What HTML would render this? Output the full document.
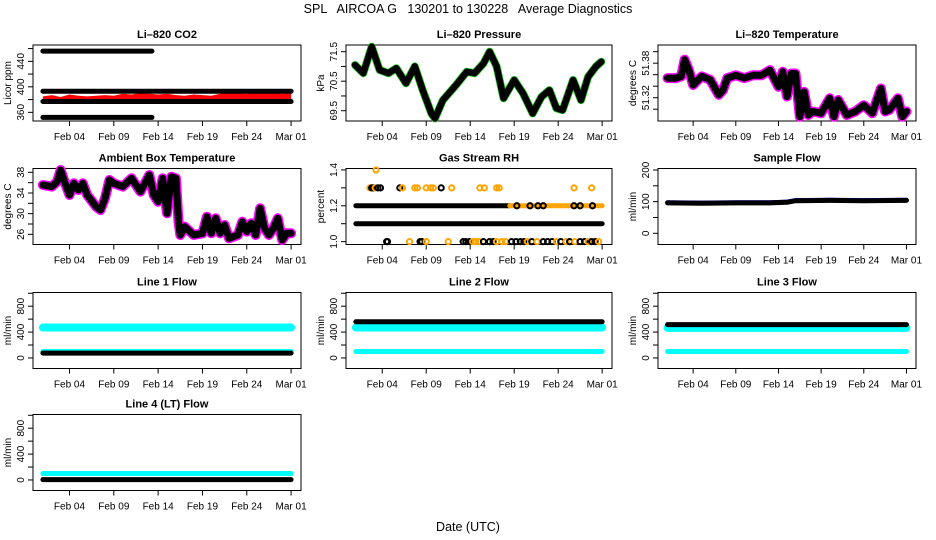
<!DOCTYPE html>
<html><head><meta charset="utf-8"><style>
html,body{margin:0;padding:0;background:#fff;}
svg{display:block;font-family:"Liberation Sans",sans-serif;}
#main-title{white-space:pre;}
</style></head><body>
<svg id="chart" width="936" height="540" viewBox="0 0 936 540">
<text id="main-title" xml:space="preserve" x="468" y="13" text-anchor="middle" font-size="12.5">SPL   AIRCOA G   130201 to 130228   Average Diagnostics</text>
<text x="468" y="531" text-anchor="middle" font-size="12.5">Date (UTC)</text>
</svg>
<script>
// ---- data ----
const xTickDays = [4, 9, 14, 19, 24, 29];
const xTickLabels = ["Feb 04", "Feb 09", "Feb 14", "Feb 19", "Feb 24", "Mar 01"];

const co2BandStart = [1, 1, 1, 1];
const co2BandEnd = [13.3, 29, 29, 13.3];
const co2BandVals = [456, 393, 377, 352];
const co2RedDays = [1,2,3,4,5,6,7,8,9,10,11,12,13,14,15,16,17,18,19,20,21,22,23,24,25,26,27,28,29];
const co2RedUpper = [385,387,384,388,386,385,386,387,386,389,388,390,389,388,389,387,386,388,387,386,389,392,390,389,391,390,391,389,390];
const co2RedLower = 379;

const presDays = [0.9,1.85,2.8,3.7,4.7,5.6,6.7,7.7,8.6,9.6,10,10.9,12.4,13.6,14.5,15.5,16.2,17,17.8,19,20,21.1,22.1,23,23.8,24.5,25.7,26.6,27.4,28.3,28.9];
const presVals = [71.05,70.77,71.67,70.88,70.77,70.94,70.43,71.0,70.2,69.4,69.24,69.86,70.37,70.82,70.77,71.1,71.5,71.0,69.92,70.54,70.09,69.41,69.97,70.2,69.58,69.52,70.54,69.86,70.65,71.0,71.16];

const tempDays = [1,2,2.6,3,3.5,4,5,6,7,7.5,8,9,10,11,12,13,14,14.5,15,15.5,16,16.5,17,17.5,18,19,20,20.5,21,22,23,24,25,26,26.5,27,28,28.5,29];
const tempVals = [51.354,51.354,51.357,51.386,51.368,51.342,51.357,51.351,51.325,51.333,51.354,51.359,51.354,51.359,51.359,51.368,51.339,51.365,51.322,51.362,51.362,51.287,51.330,51.290,51.296,51.293,51.319,51.287,51.316,51.290,51.296,51.307,51.293,51.336,51.296,51.299,51.319,51.287,51.296];

const ambDays = [1,2,2.6,3,3.5,4,4.5,5,5.5,6,7,7.5,8,8.5,9,10,11,12,13,13.5,14,14.5,15,15.5,16,16.3,16.5,17,18,19,19.5,20,20.5,21,21.5,22,23,23.5,24,24.5,25,25.5,26,26.5,27,27.5,28,28.5,29];
const ambVals = [35.55,35.23,36.19,38.45,35.87,33.61,35.87,34.58,35.87,33.61,31.35,30.71,32.97,36.52,35.87,35.23,36.84,34.26,37.48,33.61,32.32,36.84,30.06,37.16,36.84,28.45,25.87,27.48,25.87,26.19,29.42,26.19,29.1,26.19,27.81,25.23,25.87,28.45,26.52,28.13,25.87,31.03,27.16,25.87,27.16,29.1,24.9,26.19,26.19];

const rh13Days = [2.6,2.8,3.0,3.2,3.5,3.8,6.0,6.3,7.7,8.0,9.0,9.5,9.8,10.7,11.9,15.1,15.6,17.0,17.3,25.8,27.8];
const rh13Black = [0,1,1,0,1,1,1,0,0,0,0,0,0,1,0,0,0,0,0,0,0];
const rh14Days = [3.3];
const rh10Days = [4.5,4.6,7.1,8.3,8.5,9.0,11.5,13.2,13.5,13.9,14.3,14.6,15.0,15.5,16.2,16.6,17.0,17.6,18.0,18.7,19.2,19.7,20.1,20.5,21.0,21.6,22.3,22.8,23.3,23.8,24.3,24.9,25.3,25.9,26.5,27.0,27.4,27.8,28.2,28.6];
const rh10Black = [1,1,0,1,1,0,0,1,1,1,0,0,0,1,1,1,0,0,0,1,1,1,1,0,1,0,1,1,1,0,1,0,1,0,1,1,0,1,1,0];
const rh12BlackEnd = 18.5;
const rh12Dots = [19.3,20.8,21.7,22.3,25.8,26.5,27.9];

const sampleDays = [1,5,9,13,15,16,20,24,29];
const sampleVals = [96,95,96,96,98,103,104,103,104];

const flowNames = ["Line 1 Flow","Line 2 Flow","Line 3 Flow","Line 4 (LT) Flow"];
const flowCyanHigh = [470, 470, 465, 100];
const flowCyanLow = [100, 100, 100, null];
const flowBlack = [75, 560, 515, 5];

// ---- helpers ----
const NS = "http://www.w3.org/2000/svg";
const svg = document.getElementById("chart");
const colL = [33, 346, 658], colR = [301, 612, 916];
const rowT = [45, 168.5, 292.5, 414.5], BH = 76;

function el(tag, attrs, parent) {
  const e = document.createElementNS(NS, tag);
  for (const k in attrs) e.setAttribute(k, attrs[k]);
  (parent || svg).appendChild(e);
  return e;
}

function panel(col, row, title, ylab, ymin, ymax, ticks, labels, slug) {
  const g = el("g", {});
  
  
  const L = colL[col], R = colR[col], T = rowT[row], B = T + BH;
  const xs = d => L + (R - L) * ((d - 1) / 28 * 0.926 + 0.037);
  const ys = v => B - (v - ymin) / (ymax - ymin) * BH;
  const t = el("text", {x: (L + R) / 2, y: T - 7, "text-anchor": "middle", "font-size": 11, "font-weight": "bold"}, g);
  t.textContent = title;
  
  
  const box = el("rect", {x: L, y: T, width: R - L, height: BH, fill: "none", stroke: "#000", "stroke-width": 1}, g);
  
  
  const xa = el("g", {}, g);
  
  
  xTickDays.forEach((d, i) => {
    el("line", {x1: xs(d), x2: xs(d), y1: B, y2: B + 5, stroke: "#000"}, xa);
    const tl = el("text", {x: xs(d), y: B + 19, "text-anchor": "middle", "font-size": 10}, xa);
    tl.textContent = xTickLabels[i];
    
    
  });
  const ya = el("g", {}, g);
  
  
  ticks.forEach(v => el("line", {x1: L - 5, x2: L, y1: ys(v), y2: ys(v), stroke: "#000"}, ya));
  labels.forEach(lb => {
    const yy = ys(lb[0]);
    const tl = el("text", {x: L - 9, y: yy, "text-anchor": "middle", "font-size": 10, transform: `rotate(-90 ${L - 9} ${yy})`}, ya);
    tl.textContent = lb[1];
    
    
  });
  const yt = el("text", {x: L - 22, y: T + BH / 2, "text-anchor": "middle", "font-size": 10, transform: `rotate(-90 ${L - 22} ${T + BH / 2})`}, g);
  yt.textContent = ylab;
  
  
  const data = el("g", {}, g);
  
  
  return {xs, ys, g: data};
}

function band(p, d1, d2, v, color, w, name) {
  const l = el("line", {x1: p.xs(d1), x2: p.xs(d2), y1: p.ys(v), y2: p.ys(v), stroke: color, "stroke-width": w, "stroke-linecap": "round"}, p.g);
  
  
  return l;
}
function series(p, days, vals, color, w, name) {
  const pts = days.map((d, i) => p.xs(d).toFixed(1) + "," + p.ys(vals[i]).toFixed(1)).join(" ");
  const l = el("polyline", {points: pts, fill: "none", stroke: color, "stroke-width": w, "stroke-linejoin": "round", "stroke-linecap": "round"}, p.g);
  
  
  return l;
}
function dot(p, d, v, color, name) {
  const c = el("circle", {cx: p.xs(d), cy: p.ys(v), r: 2.6, fill: "none", stroke: color, "stroke-width": 2}, p.g);
  
  
}

// ---- CO2 ----
let p = panel(0, 0, "Li\u2013820 CO2", "Licor ppm", 346.4, 465.6, [360,380,400,420,440,460], [[360,"360"],[400,"400"],[440,"440"]], "co2");
{
  const up = co2RedDays.map((d, i) => p.xs(d).toFixed(1) + "," + p.ys(co2RedUpper[i]).toFixed(1));
  const lo = co2RedDays.slice().reverse().map(d => p.xs(d).toFixed(1) + "," + p.ys(co2RedLower).toFixed(1));
  const poly = el("polygon", {points: up.concat(lo).join(" "), fill: "#ff0000"}, p.g);
  
  
  co2BandVals.forEach((v, i) => band(p, co2BandStart[i], co2BandEnd[i], v, "#000", 5, "co2-black-band"));
}

// ---- Pressure ----
p = panel(1, 0, "Li\u2013820 Pressure", "kPa", 69.151, 71.727, [69.5,70,70.5,71,71.5], [[69.5,"69.5"],[70.5,"70.5"],[71.5,"71.5"]], "pressure");
series(p, presDays, presVals, "#22cc22", 8, "pressure-green-series");
series(p, presDays, presVals, "#000", 6.5, "pressure-black-series");

// ---- Li-820 Temperature ----
p = panel(2, 0, "Li\u2013820 Temperature", "degrees C", 51.2795, 51.4116, [51.30,51.32,51.34,51.36,51.38,51.40], [[51.38,"51.38"],[51.32,"51.32"]], "li820-temp");
series(p, tempDays, tempVals, "#ff00ff", 10, "li820-temp-magenta-series");
series(p, tempDays, tempVals, "#000", 7, "li820-temp-black-series");

// ---- Ambient ----
p = panel(0, 1, "Ambient Box Temperature", "degrees C", 24.03, 38.74, [26,28,30,32,34,36,38], [[26,"26"],[30,"30"],[34,"34"],[38,"38"]], "ambient-temp");
series(p, ambDays, ambVals, "#ff00ff", 10, "ambient-magenta-series");
series(p, ambDays, ambVals, "#000", 7, "ambient-black-series");

// ---- Gas stream RH ----
p = panel(1, 1, "Gas Stream RH", "percent", 0.984, 1.408, [1.0,1.1,1.2,1.3,1.4], [[1.0,"1.0"],[1.2,"1.2"],[1.4,"1.4"]], "gas-rh");
band(p, 1, 29, 1.1, "#000", 5, "rh-band-1-1");
band(p, 1, rh12BlackEnd, 1.2, "#000", 5, "rh-band-1-2");
band(p, rh12BlackEnd, 29, 1.2, "#ffa500", 5, "rh-band-1-2-orange");
rh12Dots.forEach(d => dot(p, d, 1.2, "#000", "rh-point"));
rh13Days.forEach((d, i) => dot(p, d, 1.3, rh13Black[i] ? "#000" : "#ffa500", "rh-point"));
rh14Days.forEach(d => dot(p, d, 1.4, "#ffa500", "rh-point"));
rh10Days.forEach((d, i) => dot(p, d, 1.0, rh10Black[i] ? "#000" : "#ffa500", "rh-point"));

// ---- Sample flow ----
p = panel(2, 1, "Sample Flow", "ml/min", -35.4, 204.7, [0,50,100,150,200], [[0,"0"],[100,"100"],[200,"200"]], "sample-flow");
series(p, sampleDays, sampleVals.map(v => v + 2), "#0000ff", 4, "sample-flow-blue-series");
series(p, sampleDays, sampleVals, "#000", 5, "sample-flow-black-series");

// ---- Line flows ----
const flowPos = [[0,2],[1,2],[2,2],[0,3]];
flowNames.forEach((nm, i) => {
  const slug = "line" + (i + 1) + "-flow";
  const fp = panel(flowPos[i][0], flowPos[i][1], nm, "ml/min", -163, 1012, [0,200,400,600,800,1000], [[0,"0"],[400,"400"],[800,"800"]], slug);
  band(fp, 1, 29, flowCyanHigh[i], "#00ffff", i === 3 ? 5 : 8, slug + "-cyan-band");
  if (flowCyanLow[i] !== null) band(fp, 1, 29, flowCyanLow[i], "#00ffff", 5, slug + "-cyan-low-band");
  band(fp, 1, 29, flowBlack[i], "#000", 5, slug + "-black-band");
});
</script>
</body></html>
